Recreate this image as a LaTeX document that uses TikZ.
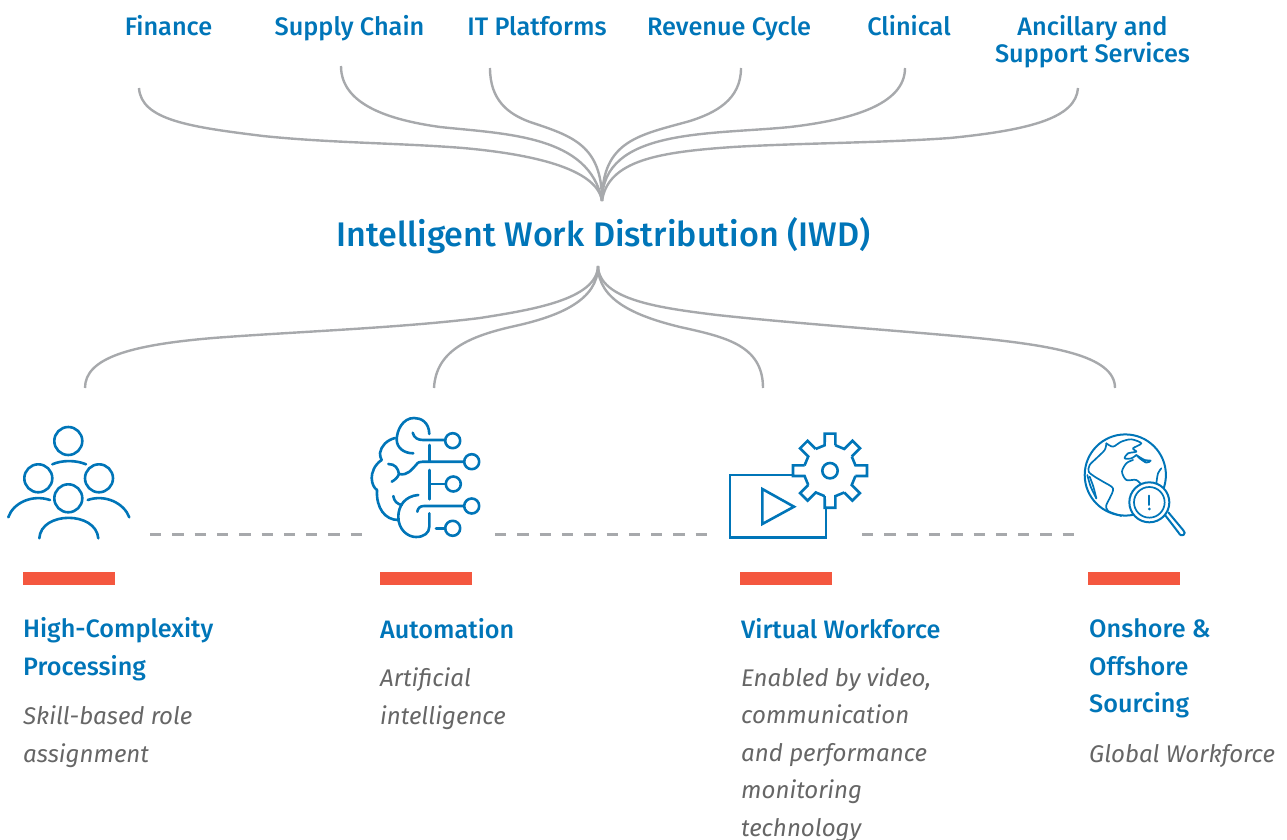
\documentclass[tikz,border=0pt]{standalone}
\usepackage{fontspec}
\setmainfont{Fira Sans}[ItalicFont={Fira Sans Italic},BoldFont={Fira Sans Medium}]
\usetikzlibrary{calc}
\definecolor{iwdblue}{HTML}{0075B8}
\definecolor{curvegray}{HTML}{A7A9AC}
\definecolor{barred}{HTML}{F4573F}
\definecolor{descgray}{HTML}{666666}
\tikzset{
  top label/.style={anchor=base,inner sep=0,align=center,text=iwdblue,font=\fontsize{25.3}{27}\selectfont\bfseries},
  title label/.style={anchor=base,inner sep=0,text=iwdblue,font=\fontsize{34.1}{40}\selectfont\bfseries},
  head label/.style={anchor=base west,inner sep=0,align=left,text=iwdblue,font=\fontsize{25.2}{37.5}\selectfont\bfseries},
  desc label/.style={anchor=base west,inner sep=0,align=left,text=descgray,font=\fontsize{24.1}{37.5}\selectfont\itshape},
  flow/.style={draw=curvegray,line width=2.4pt,line cap=butt},
  sep/.style={draw=curvegray,line width=3pt,dash pattern=on 11.3pt off 11pt},
  bar/.style={fill=barred,draw=none},
  icon/.style={draw=iwdblue,line width=2.6pt,line cap=round,line join=round},
  thin icon/.style={draw=iwdblue,line width=1.7pt,line cap=round,line join=round},
}
\begin{document}
\begin{tikzpicture}[x=1pt,y=-1pt]
\useasboundingbox (0,0) rectangle (1287,840);
% top labels
\node[top label] (fin) at (168.5,35.5) {Finance};
\node[top label] (sup) at (349.5,35.5) {Supply Chain};
\node[top label] (itp) at (537,35.5) {IT Platforms};
\node[top label] (rev) at (729,35.5) {Revenue Cycle};
\node[top label] (cli) at (909,35.5) {Clinical};
\node[top label] (anc) at (1092.5,62.5) {Ancillary and\\Support Services};
\node[title label] (iwd) at (603.5,246) {Intelligent Work Distribution (IWD)};
% anchors of the connectors
\coordinate (hubT) at (602,201);
\coordinate (hubB) at (598,266);
\coordinate (cFin) at (139,88);
\coordinate (cSup) at (341,66);
\coordinate (cItp) at (490,68);
\coordinate (cRev) at (741,68);
\coordinate (cCli) at (905,68);
\coordinate (cAnc) at (1078,88);
\coordinate (cHig) at (85,388);
\coordinate (cAut) at (434,388);
\coordinate (cVir) at (763,388);
\coordinate (cOns) at (1115,388);
% upper connectors
\draw[flow] (cFin) .. controls (141,120) and (190,127) .. (263,136) .. controls (330,143) and (400,143) .. (463,148) .. controls (530,154) and (597,168) .. (hubT);
\draw[flow] (cSup) .. controls (341,105) and (390,120) .. (440,127) .. controls (505,134) and (590,135) .. (hubT);
\draw[flow] (cItp) .. controls (490,100) and (508,114) .. (530,122) .. controls (572,136) and (602,145) .. (hubT);
\draw[flow] (cRev) .. controls (741,100) and (715,113) .. (690,121) .. controls (640,135) and (602,140) .. (hubT);
\draw[flow] (cCli) .. controls (905,105) and (850,120) .. (790,127) .. controls (710,135) and (602,128) .. (hubT);
\draw[flow] (cAnc) .. controls (1076,118) and (1030,130) .. (950,138) .. controls (880,143) and (800,143) .. (733,147) .. controls (660,152) and (608,160) .. (hubT);
% lower connectors
\draw[flow] (hubB) .. controls (597,300) and (530,310) .. (480,318) .. controls (400,328) and (290,332) .. (213,338) .. controls (130,345) and (85,358) .. (cHig);
\draw[flow] (hubB) .. controls (598,300) and (560,316) .. (515,326) .. controls (470,336) and (436,350) .. (cAut);
\draw[flow] (hubB) .. controls (598,300) and (635,316) .. (680,327) .. controls (725,337) and (763,345) .. (cVir);
\draw[flow] (hubB) .. controls (599,300) and (660,308) .. (717,315) .. controls (790,323) and (890,330) .. (967,337) .. controls (1050,345) and (1115,355) .. (cOns);
% separators
\coordinate (s1a) at (150,534); \coordinate (s1b) at (362,534);
\coordinate (s2a) at (495,534); \coordinate (s2b) at (707,534);
\coordinate (s3a) at (862,534); \coordinate (s3b) at (1075,534);
\draw[sep] (s1a) -- (s1b);
\draw[sep] (s2a) -- (s2b);
\draw[sep] (s3a) -- (s3b);
% bars
\fill[bar] (23,572) rectangle (115,585);
\fill[bar] (380,572) rectangle (472,585);
\fill[bar] (740,572) rectangle (832,585);
\fill[bar] (1088,572) rectangle (1180,585);
% column texts
\node[head label] (h1) at (23,675) {High-Complexity\\Processing};
\node[desc label] (d1) at (23,762) {Skill-based role\\assignment};
\node[head label] (h2) at (380,638) {Automation};
\node[desc label] (d2) at (380,724) {Artificial\\intelligence};
\node[head label] (h3) at (741,638) {Virtual Workforce};
\node[desc label] (d3) at (741,836) {Enabled by video,\\communication\\and performance\\monitoring\\technology};
\node[head label] (h4) at (1089,712.5) {Onshore \&\\Offshore\\Sourcing};
\node[desc label] (d4) at (1089,762) {Global Workforce};
% people icon
\begin{scope}[icon]
\draw (68.3,441) circle (14);
\draw (38.3,478.3) circle (14);
\draw (99,478.3) circle (14);
\draw (68.3,498.3) circle (14);
\draw (52.3,464.3) .. controls (62,460) and (76,460) .. (86,464.3);
\draw (8.3,517.3) .. controls (13,503) and (32,494) .. (50,500);
\draw (129.3,517.3) .. controls (124,503) and (105,494) .. (87.7,500);
\draw (39.3,538.3) .. controls (41,511) and (96,511) .. (98.3,538.3);
\end{scope}
% brain icon
\begin{scope}[icon]
\draw (452.7,440.7) circle (7.5);
\draw (471.7,461.7) circle (7.5);
\draw (453.3,484) circle (7.5);
\draw (471.7,506) circle (7.5);
\draw (452.7,528.3) circle (7.5);
\draw (412.7,432.7) .. controls (414,438) and (418,440) .. (423,440) -- (445,440);
\draw (429.3,434) .. controls (429,422) and (421,418) .. (414,418) .. controls (403,418) and (396.7,430) .. (396.7,440) .. controls (397,448) and (404,453.3) .. (413.3,453.3);
\draw (395,438) .. controls (387,440) and (381,446) .. (380,453) .. controls (380,456) and (380.5,458) .. (381.7,460) .. controls (374,465) and (371.7,473) .. (371.7,478) .. controls (372,484) and (374,488) .. (377,490) .. controls (376,508) and (385,520) .. (398.3,520);
\draw (429.3,445) -- (429.3,461);
\draw (388.3,464) .. controls (395,464) and (398,468) .. (399,474) .. controls (408,476) and (412,469) .. (416,465) .. controls (418,462) and (420,461.7) .. (423,461.7) -- (463.3,461.7);
\draw (399,474) .. controls (398,477) and (395,480) .. (391.7,481.7);
\draw (429.3,470) -- (429.3,499.3);
\draw (429.3,484) -- (445,484);
\draw (393.3,496) .. controls (394,501) and (397,504) .. (401.7,505);
\draw (418.3,495) .. controls (405,496) and (398.3,506) .. (398.3,516.7) .. controls (398.3,530) and (408,537) .. (416,537) .. controls (424,537) and (429.3,533) .. (429.3,526.7) -- (429.3,513.3);
\draw (417.3,511.7) .. controls (418,508) and (420,506) .. (424,506) -- (463.3,506);
\draw (436,528.3) -- (445,528.3);
\end{scope}
% video + gear icon
\begin{scope}[icon,line cap=butt,line join=miter]
\draw (792.7,475) -- (730,475) -- (730,537.7) -- (826,537.7) -- (826,506.7);
\draw (762.3,489) -- (794,506.7) -- (762.3,524) -- cycle;
\draw (830,470.7) circle (7.7);
\begin{scope}[shift={(830,470.7)}]
\foreach \a in {0,45,...,315}{
  \pgfmathsetmacro{\b}{\a+45-11.8}
  \draw (\a-11.8:26pt) -- (\a-8.15:37.4pt) -- (\a+8.15:37.4pt) -- (\a+11.8:26pt) -- (\b:26pt);
}
\end{scope}
\end{scope}
% globe icon
\begin{scope}[thin icon]
\draw[line width=2pt] (1125.3,475) circle (40.6);
\begin{scope}[shift={(1078,430)},x=0.3333pt,y=-0.3333pt]
\draw plot[smooth] coordinates {(85,40) (80,60) (55,85) (35,105) (32,125) (50,140) (75,155) (105,175) (95,205) (85,225) (90,243) (130,258)};
\draw plot[smooth] coordinates {(85,40) (105,50) (130,35) (160,28) (190,40) (165,55) (175,65) (150,70) (140,85) (160,85) (175,75)};
\draw plot[smooth] coordinates {(175,75) (200,90) (218,92) (205,98) (185,85) (175,75)};
\draw plot[smooth] coordinates {(165,90) (145,100) (132,125) (145,150) (175,150) (195,170)};
\draw plot[smooth] coordinates {(250,115) (240,130) (235,160)};
\draw plot[smooth] coordinates {(28,135) (38,170) (55,205)};
\draw plot[smooth] coordinates {(35,140) (46,170) (55,205)};
\end{scope}
\begin{scope}[shift={(1070,425)},x=0.3333pt,y=-0.3333pt]
\draw[fill=white,line width=2pt] (238,232) circle (60);
\draw (238,232) circle (46);
\draw[line width=2pt] (238,212) -- (238,240);
\fill[iwdblue] (238,252) circle (4.5);
\draw[line width=2pt] (285,270) -- (325,322) .. controls (335,342) and (352,325) .. (340,316) -- (295,262);
\end{scope}
\end{scope}
\end{tikzpicture}
\end{document}
